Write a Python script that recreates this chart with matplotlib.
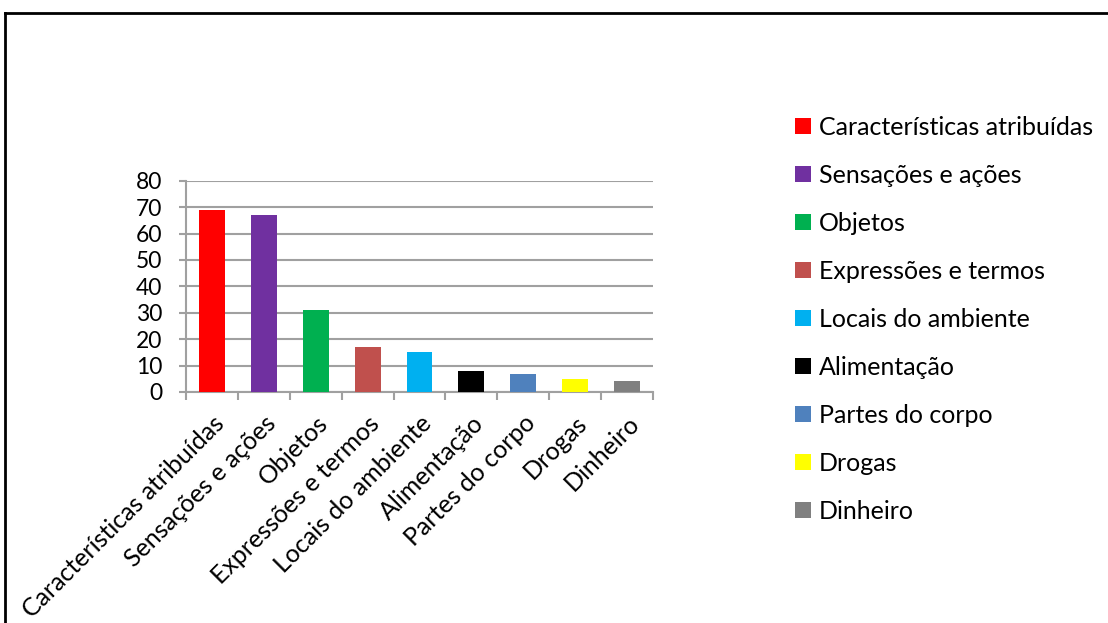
import matplotlib
matplotlib.use("Agg")
import matplotlib.pyplot as plt
from matplotlib.patches import Patch
from matplotlib.lines import Line2D

categories = ["Características atribuídas", "Sensações e ações", "Objetos",
              "Expressões e termos", "Locais do ambiente", "Alimentação",
              "Partes do corpo", "Drogas", "Dinheiro"]
values = [69, 67, 31, 17, 15, 8, 7, 5, 4]
colors = ["#FF0000", "#7030A0", "#00B050", "#C0504D", "#00B0F0",
          "#000000", "#4F81BD", "#FFFF00", "#808080"]
yticks = [0, 10, 20, 30, 40, 50, 60, 70, 80]

plt.rcParams['font.family'] = ['Lato', 'DejaVu Sans']
W, H = 1108, 623
fig = plt.figure(figsize=(W / 100, H / 100), dpi=100)

ax = fig.add_axes([186 / W, 1 - 392 / H, (653 - 186) / W, (392 - 180.7) / H])
x = list(range(len(categories)))
ax.bar(x, values, width=0.5, color=colors, zorder=3)
ax.set_xlim(-0.5, len(categories) - 0.5)
ax.set_ylim(0, 80)
ax.set_yticks(yticks)
ax.set_yticklabels([str(t) for t in yticks], fontsize=16.5)
ax.yaxis.grid(True, color="#A0A0A0", linewidth=1.5, zorder=0)
ax.set_axisbelow(True)
for s in ["top", "right"]:
    ax.spines[s].set_visible(False)
for s in ["left", "bottom"]:
    ax.spines[s].set_color("#A0A0A0")
    ax.spines[s].set_linewidth(1.5)
ax.tick_params(axis="y", length=5, width=1.5, color="#A0A0A0", pad=12)
# x ticks at category boundaries
ax.set_xticks([i - 0.5 for i in range(len(categories) + 1)], minor=False)
ax.set_xticklabels([""] * (len(categories) + 1))
ax.tick_params(axis="x", which="major", length=6, width=1.5, color="#A0A0A0")
ax.set_xticks(x, minor=True)
ax.set_xticklabels(categories, minor=True, rotation=45, ha="right", va="top",
                   rotation_mode="anchor", fontsize=18)
ax.tick_params(axis="x", which="minor", length=0, pad=14)

handles = [Patch(facecolor=c, edgecolor="none") for c in colors]
leg = fig.legend(handles, categories, loc="upper left",
                 bbox_to_anchor=(795 / W, 1 - 116 / H), frameon=False,
                 fontsize=18, handlelength=0.64, handleheight=0.64,
                 handletextpad=0.32, labelspacing=1.0, borderaxespad=0,
                 borderpad=0)

# outer frame (left and top edges visible)
fig.add_artist(Line2D([4.5 / W, 4.5 / W], [0, 1 - 13 / H], color="black",
                      linewidth=2, transform=fig.transFigure))
fig.add_artist(Line2D([4.5 / W, 1], [1 - 13 / H, 1 - 13 / H], color="black",
                      linewidth=2, transform=fig.transFigure))

fig.savefig("out.png", dpi=100)
